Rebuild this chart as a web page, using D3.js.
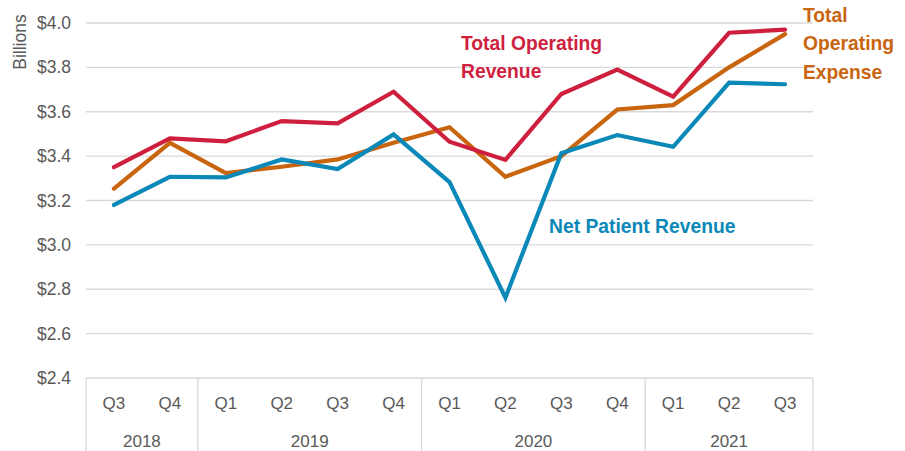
<!DOCTYPE html>
<html><head><meta charset="utf-8">
<script src="https://cdn.jsdelivr.net/npm/d3@7"></script>
<style>
html,body{margin:0;padding:0;background:#fff;}
svg{display:block;}
text{font-family:"Liberation Sans",Arial,sans-serif;}
</style></head>
<body><svg id="chart" width="905" height="451"></svg>
<script>
const quarters = ["Q3","Q4","Q1","Q2","Q3","Q4","Q1","Q2","Q3","Q4","Q1","Q2","Q3"];
const years = ["2018","2018","2019","2019","2019","2019","2020","2020","2020","2020","2021","2021","2021"];
const totalOperatingRevenue = [3.35,3.48,3.467,3.558,3.548,3.69,3.465,3.383,3.68,3.79,3.668,3.956,3.97];
const totalOperatingExpense = [3.253,3.46,3.323,3.352,3.385,3.46,3.53,3.307,3.40,3.61,3.63,3.80,3.95];
const netPatientRevenue = [3.18,3.307,3.304,3.385,3.342,3.498,3.283,2.762,3.413,3.495,3.442,3.731,3.724];
const yTicks = [2.4,2.6,2.8,3.0,3.2,3.4,3.6,3.8,4.0];

const svg = d3.select("#chart");
const L = 86, R = 813, T = 23, B = 378;
const idx = quarters.map((q,i)=>i);
const x = d3.scaleBand().domain(idx).range([L,R]).padding(0);
const y = d3.scaleLinear().domain([2.4,4.0]).range([B,T]);
const cx = i => x(i) + x.bandwidth()/2;

// gridlines
svg.append("g").selectAll("line").data(yTicks.filter(d=>d>2.4)).join("line")
  .attr("x1",L).attr("x2",R).attr("y1",d=>y(d)).attr("y2",d=>y(d))
  .attr("stroke","#d9d9d9").attr("stroke-width",1.3);

// y axis labels
const yAxis = d3.axisLeft(y).tickValues(yTicks).tickFormat(d=>"$"+d3.format(".1f")(d)).tickSize(0).tickPadding(15);
const ya = svg.append("g").attr("transform",`translate(${L},0)`).call(yAxis);
ya.select(".domain").remove();
ya.selectAll("text").attr("fill","#595959").attr("font-size","17.5px")
  .attr("font-family","'Liberation Sans',Arial,sans-serif");

svg.append("text").attr("transform","translate(26,42) rotate(-90)")
  .attr("text-anchor","middle").attr("fill","#595959").attr("font-size","17.5px").text("Billions");

// category axis
svg.append("line").attr("x1",L).attr("x2",R).attr("y1",B).attr("y2",B).attr("stroke","#d9d9d9").attr("stroke-width",1.3);
const xa = svg.append("g").attr("transform",`translate(0,${B})`)
  .call(d3.axisBottom(x).tickFormat(i=>quarters[i]).tickSize(0).tickPadding(0));
xa.select(".domain").remove();
xa.selectAll("text").attr("y",25).attr("dy","0.35em").attr("fill","#595959").attr("font-size","17px")
  .attr("font-family","'Liberation Sans',Arial,sans-serif");

// year groups
const groups = [];
years.forEach((yr,i)=>{
  const g = groups.find(g=>g.year===yr);
  if(g) g.end=i; else groups.push({year:yr,start:i,end:i});
});
const bounds = [L].concat(groups.map(g=>x(g.end)+x.bandwidth()));
svg.append("g").selectAll("line").data(bounds).join("line")
  .attr("x1",d=>d).attr("x2",d=>d).attr("y1",B).attr("y2",451)
  .attr("stroke","#d9d9d9").attr("stroke-width",1.3);
svg.append("g").selectAll("text").data(groups).join("text")
  .attr("x",g=>(x(g.start)+x(g.end)+x.bandwidth())/2).attr("y",441).attr("dy","0.35em")
  .attr("text-anchor","middle").attr("fill","#595959").attr("font-size","17px").text(g=>g.year);

// lines
const line = d3.line().x((d,i)=>cx(i)).y(d=>y(d));
const series = [
  {vals:totalOperatingExpense,color:"#C9650F"},
  {vals:netPatientRevenue,color:"#0A88B8"},
  {vals:totalOperatingRevenue,color:"#CF1F3E"}
];
svg.append("g").selectAll("path").data(series).join("path")
  .attr("d",s=>line(s.vals)).attr("fill","none").attr("stroke",s=>s.color)
  .attr("stroke-width",4.2).attr("stroke-linejoin","miter").attr("stroke-linecap","round");

// labels
function label(lines,x0,y0,color){
  const t = svg.append("text").attr("fill",color).attr("font-size","19.3px").attr("font-weight","bold")
    .attr("font-family","'Liberation Sans',Arial,sans-serif");
  lines.forEach((l,k)=>t.append("tspan").attr("x",x0).attr("y",y0+k*28.3).text(l));
}
label(["Total Operating","Revenue"],461,50,"#CF1F3E");
label(["Total","Operating","Expense"],803,22,"#C9650F");
label(["Net Patient Revenue"],549,233,"#0A88B8");
</script></body></html>
